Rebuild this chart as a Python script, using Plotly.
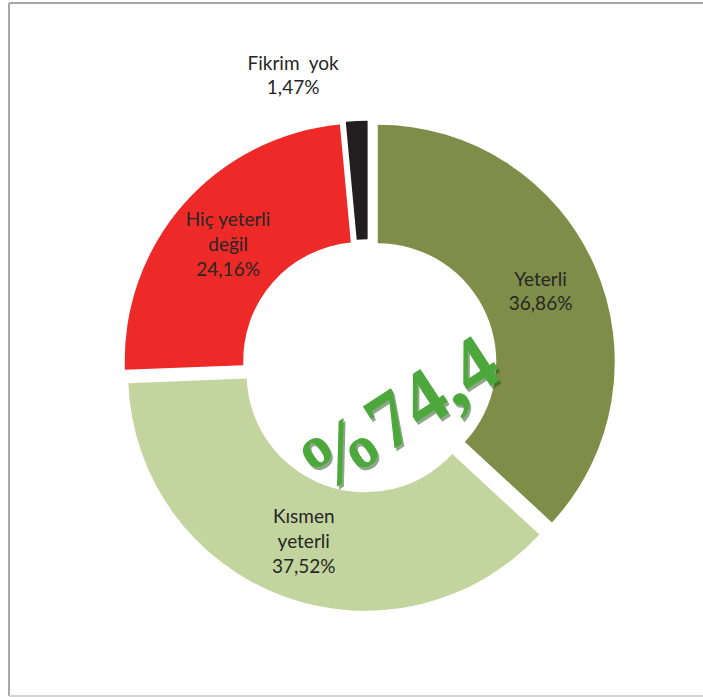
import plotly.graph_objects as go

categories = ["Yeterli", "Kısmen yeterli", "Hiç yeterli değil", "Fikrim yok"]
values = [36.86, 37.52, 24.16, 1.47]
label_text = ["Yeterli<br>36,86%", "Kısmen<br>yeterli<br>37,52%", "Hiç yeterli<br>değil<br>24,16%",
              "Fikrim  yok<br>1,47%<br><span style='font-size:10px'> </span>"]
colors = ["#7F8D48", "#C3D59E", "#EE2A28", "#231F20"]
pulls = [0.045, 0.035, 0.035, 0.035]
center_label = "%74,4"

W, H = 703, 697
cx, cy, R = 368, 366, 237
half = R * (1 + max(pulls))

fig = go.Figure(go.Pie(
    labels=categories,
    values=values,
    text=label_text,
    textinfo="text",
    textposition=["inside", "inside", "inside", "outside"],
    insidetextorientation="horizontal",
    hole=0.5,
    sort=False,
    direction="clockwise",
    rotation=0,
    pull=pulls,
    marker=dict(colors=colors, line=dict(width=0)),
    textfont=dict(family="Lato", size=19, color="#262626"),
    showlegend=False,
    domain=dict(x=[(cx - half) / W, (cx + half) / W],
                y=[(H - cy - half) / H, (H - cy + half) / H]),
))

# centre label with a soft shadow
tx, ty = 398, 414
fig.add_annotation(x=(tx + 2) / W, y=(H - ty - 3) / H, xref="paper", yref="paper",
                   text="<b>" + center_label + "</b>", showarrow=False, textangle=-33,
                   font=dict(family="Liberation Serif", size=80, color="rgba(30,80,20,0.5)"))
fig.add_annotation(x=tx / W, y=(H - ty) / H, xref="paper", yref="paper",
                   text="<b>" + center_label + "</b>", showarrow=False, textangle=-33,
                   font=dict(family="Liberation Serif", size=80, color="#4CA83A"))

# frame
fig.add_shape(type="line", xref="paper", yref="paper", x0=9 / W, x1=9 / W, y0=1 / H, y1=(H - 3) / H,
              line=dict(color="#A8A8A8", width=2))
fig.add_shape(type="line", xref="paper", yref="paper", x0=9 / W, x1=1, y0=(H - 3) / H, y1=(H - 3) / H,
              line=dict(color="#A8A8A8", width=2))
fig.add_shape(type="line", xref="paper", yref="paper", x0=9 / W, x1=1, y0=1 / H, y1=1 / H,
              line=dict(color="#D4D4D4", width=2))

fig.update_layout(width=W, height=H, margin=dict(l=0, r=0, t=0, b=0),
                  paper_bgcolor="white", plot_bgcolor="white")

fig.write_html("out.html", config={"displayModeBar": False},
               post_script="document.body.style.margin='0';document.body.style.overflow='hidden';")
